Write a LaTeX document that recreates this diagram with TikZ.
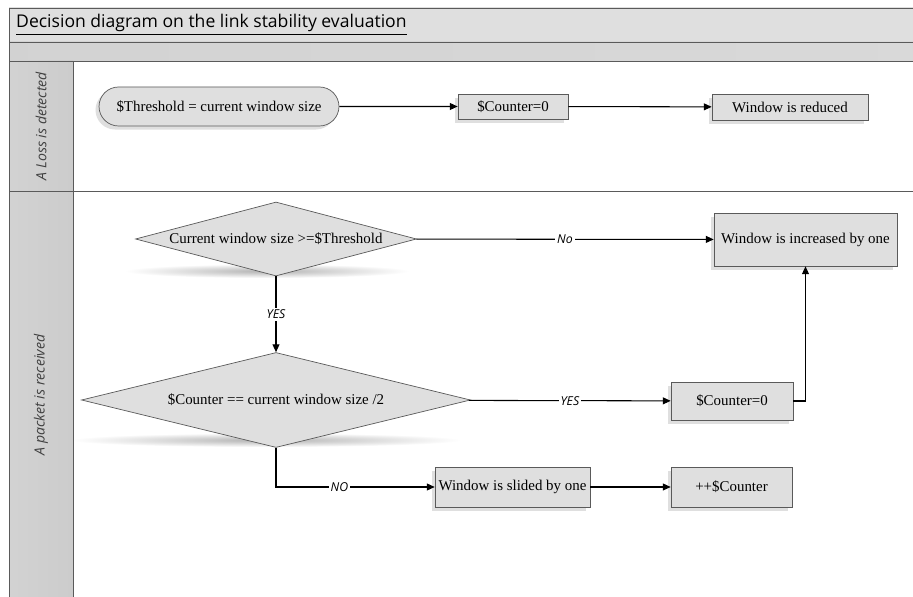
\documentclass[tikz,border=0pt]{standalone}
\usepackage{fontspec}
\setmainfont{Liberation Serif}
\newfontfamily\lanefont{Open Sans}
\usetikzlibrary{shapes.geometric,shapes.misc,arrows.meta,shadows}

\definecolor{boxgray}{RGB}{223,223,223}
\definecolor{framegray}{RGB}{90,90,90}

\tikzset{
    box/.style={draw=framegray, fill=boxgray, inner sep=0pt,
        font=\fontsize{8.5}{10}\selectfont,
        drop shadow={shadow xshift=-2pt, shadow yshift=-2pt, opacity=0.25}},
    decision/.style={diamond, draw=framegray, fill=boxgray, inner sep=0pt,
        font=\fontsize{8.5}{10}\selectfont},
    flow/.style={semithick, ->},
    answer/.style={font=\lanefont\itshape\fontsize{7}{8}\selectfont, fill=white, inner sep=1pt},
    lane/.style={rotate=90, font=\lanefont\itshape\fontsize{8}{9}\selectfont, text=black!75}
}

\begin{document}
\begin{tikzpicture}[x=0.02cm, y=-0.02cm, >={Triangle[length=4.5pt,width=4pt]}]
        \useasboundingbox (0,0) rectangle (913,597);
        \fill[white] (0,0) rectangle (913,597);
        \shade[inner color=gray!60, outer color=white] (267,271) ellipse [x radius=2.84cm, y radius=0.14cm];
        \shade[inner color=gray!60, outer color=white] (266,440) ellipse [x radius=3.9cm, y radius=0.14cm];
        \shade[left color=gray!25, middle color=gray!5, right color=gray!25] (9,8) rectangle (913,42);
        \shade[left color=gray!35, middle color=gray!15, right color=gray!30] (9,42) rectangle (913,61);
        \shade[left color=gray!35, middle color=gray!5, right color=gray!40] (9,61) rectangle (73,191);
        \shade[left color=gray!35, middle color=gray!5, right color=gray!40] (9,191) rectangle (73,597);
        \draw[framegray] (913,8) -- (9,8) -- (9,597);
        \draw[framegray] (9,42) -- (913,42);
        \draw[framegray] (9,61) -- (913,61);
        \draw[framegray] (9,191) -- (913,191);
        \draw[framegray] (73,61) -- (73,597);
        \node[anchor=west, font=\lanefont\fontsize{10}{12}\selectfont] (title) at (10,25)
            {\underline{Decision diagram on the link stability evaluation}};
        \node[lane] (loss) at (41,126) {A Loss is detected};
        \node[lane] (packet) at (41,395) {A packet is received};
        \node[box, rounded rectangle, minimum width=4.8cm, minimum height=0.78cm] (thresh) at (219,106.5) {\$Threshold = current window size};
        \node[box, minimum width=2.2cm, minimum height=0.5cm] (reset) at (513,106.5) {\$Counter=0};
        \node[box, minimum width=3.12cm, minimum height=0.52cm] (reduce) at (790,107) {Window is reduced};
        \node[decision, minimum width=5.62cm, minimum height=1.48cm, shape aspect=3.8] (check) at (276,239) {Current window size >=\$Threshold};
        \node[decision, minimum width=7.78cm, minimum height=1.9cm, shape aspect=4.1] (half) at (276,400) {\$Counter == current window size /2};
        \node[box, minimum width=3.66cm, minimum height=1.06cm] (grow) at (805.5,239.5) {Window is increased by one};
        \node[box, minimum width=2.44cm, minimum height=0.76cm] (zero) at (732,401) {\$Counter=0};
        \node[box, minimum width=3.1cm, minimum height=0.8cm] (slide) at (512.5,487) {Window is slided by one};
        \node[box, minimum width=2.42cm, minimum height=0.8cm] (incr) at (731.5,487) {++\$Counter};
        \draw[flow] (thresh) -- (reset);
        \draw[flow] (reset) -- (reduce);
        \draw[flow] (check) -- node[answer] {YES} (half);
        \draw[flow] (check) -- node[answer] {No} (grow);
        \draw[flow] (half) -- node[answer] {YES} (zero);
        \draw[flow] (zero.east) -| (grow.south);
        \draw[flow] (half.south) |- node[answer, pos=0.7] {NO} (slide.west);
        \draw[flow] (slide) -- (incr);
\end{tikzpicture}
\end{document}
